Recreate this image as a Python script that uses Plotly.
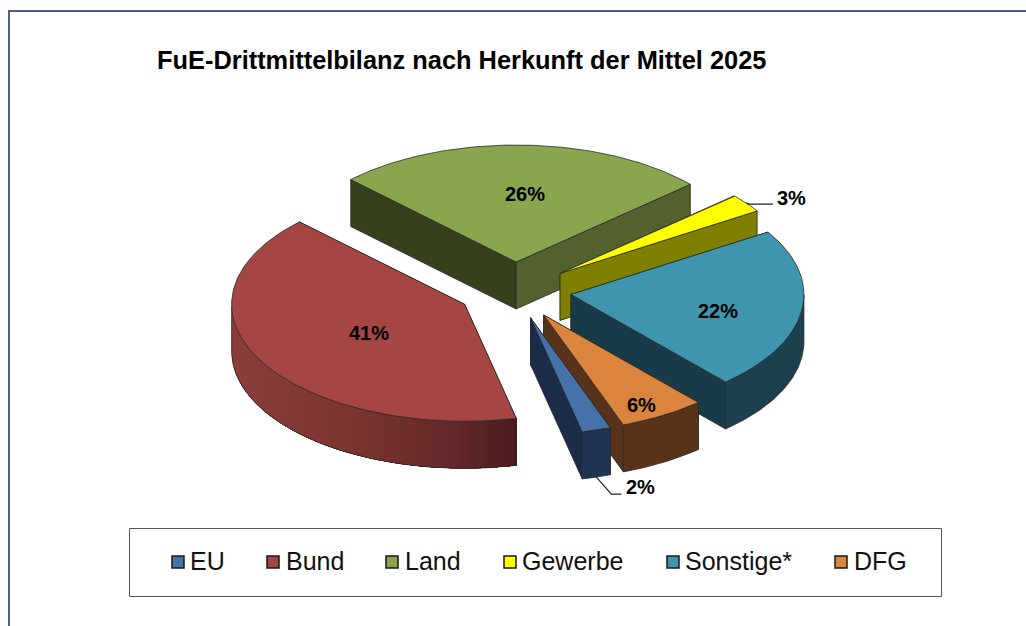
import numpy as np
import plotly.graph_objects as go

categories = ["EU", "Bund", "Land", "Gewerbe", "Sonstige*", "DFG"]
values = [2.0, 41.0, 26.0, 2.6, 22.4, 6.0]
top_colors = ["#4672AA", "#A64644", "#89A54E", "#FFFF00", "#4095AE", "#DB843D"]
cut_colors = ["#1A2C48", "#4F1E1D", "#35411C", "#808000", "#193B49", "#58331A"]
cut2_colors = ["#1A2C48", "#4F1E1D", "#53612F", "#808000", "#193B49", "#58331A"]
rim_colors = ["#1F3453", "#8C3F3C", "#53612F", "#808000", "#1C404E", "#58331A"]
title = "FuE-Drittmittelbilanz nach Herkunft der Mittel 2025"

CX, CY, RX, RY, DEPTH, EXPL = 514.5, 290.5, 233.0, 117.0, 47.0, 57.0
START = -70.0
EDGE = "#2A2A2A"

total = sum(values)
angles = [START]
for v in values:
    angles.append(angles[-1] - 360.0 * v / total)


def apex(mid):
    r = np.radians(mid)
    return CX + EXPL * np.cos(r), CY - EXPL * 0.5 * np.sin(r)


def rim_pt(ax, ay, a, drop=0.0):
    r = np.radians(a)
    return ax + RX * np.cos(r), ay - RY * np.sin(r) + drop


fig = go.Figure()


def poly(xs, ys, fill, line=EDGE, width=0.8):
    fig.add_trace(go.Scatter(x=list(xs), y=list(ys), mode="lines", fill="toself",
                             fillcolor=fill, line=dict(color=line, width=width),
                             hoverinfo="skip", showlegend=False))


def stroke(xs, ys, color=EDGE, width=0.8):
    fig.add_trace(go.Scatter(x=list(xs), y=list(ys), mode="lines",
                             line=dict(color=color, width=width),
                             hoverinfo="skip", showlegend=False))


def lerp_red(t):
    stops = [(0.0, (140, 63, 60)), (0.45, (122, 52, 47)), (0.75, (100, 42, 42)), (1.0, (75, 29, 28))]
    for (t0, c0), (t1, c1) in zip(stops, stops[1:]):
        if t <= t1:
            f = (t - t0) / (t1 - t0)
            return "rgb(%d,%d,%d)" % tuple(c0[i] + f * (c1[i] - c0[i]) for i in range(3))
    return "rgb(75,29,28)"


for i in [2, 3, 4, 1, 5, 0]:
    a0, a1 = angles[i], angles[i + 1]
    mid = (a0 + a1) / 2
    ax, ay = apex(mid)
    for a, col in ((a0, cut_colors[i]), (a1, cut2_colors[i])):
        px, py = rim_pt(ax, ay, a)
        poly([ax, px, px, ax, ax], [ay, py, py + DEPTH, ay + DEPTH, ay], col)
    arc = np.linspace(a0, a1, 121)
    vis = arc[np.sin(np.radians(arc)) <= 0]
    if len(vis) > 1:
        if categories[i] == "Bund":
            edges = np.linspace(vis[-1], vis[0], 61)
            x_lo, x_hi = rim_pt(ax, ay, edges[0])[0], rim_pt(ax, ay, edges[-1])[0]
            for b0 in edges[:-1]:
                # each band runs to the end of the rim, so no gaps show between bands
                seg = np.linspace(b0, edges[-1], 40)
                tx, ty = rim_pt(ax, ay, seg)
                t = (rim_pt(ax, ay, b0)[0] - x_lo) / (x_hi - x_lo)
                c = lerp_red(t)
                poly(list(tx) + list(tx[::-1]) + [tx[0]],
                     list(ty) + list((ty + DEPTH)[::-1]) + [ty[0]], c, c, 0)
            tx, ty = rim_pt(ax, ay, vis)
            stroke(tx, ty + DEPTH)
            px, py = rim_pt(ax, ay, a0)
            stroke([px, px], [py, py + DEPTH])
            stroke([tx[-1], tx[-1]], [ty[-1], ty[-1] + DEPTH])
        else:
            tx, ty = rim_pt(ax, ay, vis)
            poly(list(tx) + list(tx[::-1]) + [tx[0]],
                 list(ty) + list((ty + DEPTH)[::-1]) + [ty[0]], rim_colors[i])
    tx, ty = rim_pt(ax, ay, arc)
    poly([ax] + list(tx) + [ax], [ay] + list(ty) + [ay], top_colors[i])

# leader lines start on the slices they belong to
g_mid = (angles[3] + angles[4]) / 2
e_mid = (angles[0] + angles[1]) / 2
gx, gy = rim_pt(*apex(g_mid), g_mid)
ex, ey = rim_pt(*apex(e_mid), e_mid, DEPTH)
stroke([gx, gx + 3, 773], [gy, gy + 1, gy + 1], "#222222", 1.2)
stroke([ex, ex + 15, ex + 25], [ey, ey + 17, ey + 17], "#222222", 1.2)

label_pos = {"EU": (640, 487), "Bund": (369, 333), "Land": (525, 194),
             "Gewerbe": (791, 198), "Sonstige*": (718, 311), "DFG": (641, 405)}
ann = []
for c, v in zip(categories, values):
    x, y = label_pos[c]
    ann.append(dict(x=x, y=y, text=f"<b>{round(v)}%</b>", showarrow=False, xref="x", yref="y",
                    xanchor="center", yanchor="middle",
                    font=dict(family="Liberation Sans", size=20, color="black")))

ann.append(dict(x=155, y=60, text=f"<b>{title}</b>", showarrow=False, xref="x", yref="y",
                xanchor="left", yanchor="middle",
                font=dict(family="Liberation Sans", size=25.4, color="black")))

marker_x = [178, 273, 392, 510, 673, 841]
text_x = [188, 284, 403, 520, 683, 852]
for c, col, mx, tx_ in zip(categories, top_colors, marker_x, text_x):
    fig.add_trace(go.Scatter(x=[mx], y=[562], mode="markers", name=c,
                             marker=dict(symbol="square", size=12, color=col,
                                         line=dict(color="#1A1A1A", width=1.5)),
                             hoverinfo="skip", showlegend=False))
    ann.append(dict(x=tx_, y=561, text=c, showarrow=False, xref="x", yref="y",
                    xanchor="left", yanchor="middle",
                    font=dict(family="Liberation Sans", size=25, color="#111111")))

shapes = [
    dict(type="line", xref="x", yref="y", x0=8, y0=11, x1=1026, y1=11, line=dict(color="#4A6080", width=2)),
    dict(type="line", xref="x", yref="y", x0=9, y0=11, x1=9, y1=626, line=dict(color="#4A6080", width=2)),
    dict(type="rect", xref="x", yref="y", x0=129.5, y0=528.5, x1=941.5, y1=596.5,
         line=dict(color="#555555", width=1), fillcolor="white", layer="below"),
]

fig.update_layout(
    width=1026, height=626, margin=dict(l=0, r=0, t=0, b=0),
    paper_bgcolor="white", plot_bgcolor="white", showlegend=False,
    xaxis=dict(range=[0, 1026], visible=False, fixedrange=True),
    yaxis=dict(range=[626, 0], visible=False, fixedrange=True),
    annotations=ann, shapes=shapes,
)
fig.write_html("out.html", config={"displayModeBar": False},
               post_script="document.body.style.margin='0';document.body.style.overflow='hidden';")
